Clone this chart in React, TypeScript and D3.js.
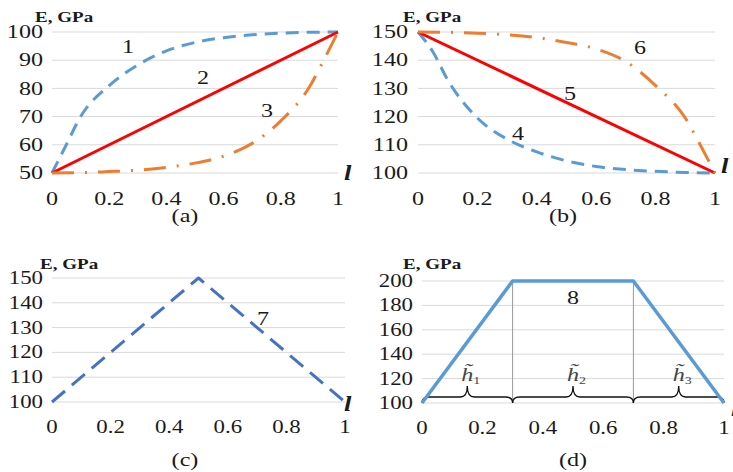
import React from "react";
import * as d3 from "d3";

// ---------- data ----------
const xTicks = [0, 0.2, 0.4, 0.6, 0.8, 1];
const xTickLabels = ["0", "0.2", "0.4", "0.6", "0.8", "1"];

const yTicksA = [50, 60, 70, 80, 90, 100];
const yTicksB = [100, 110, 120, 130, 140, 150];
const yTicksC = [100, 110, 120, 130, 140, 150];
const yTicksD = [100, 120, 140, 160, 180, 200];

const lFine = [0, 0.05, 0.1, 0.2, 0.3, 0.4, 0.5, 0.6, 0.7, 0.8, 0.9, 1];
const lTail = [0, 0.1, 0.2, 0.3, 0.4, 0.5, 0.6, 0.7, 0.8, 0.9, 0.95, 1];
const lLine = [0, 1];

const curve1 = [50, 60, 70, 81, 88.3, 93.3, 96.3, 98, 99, 99.6, 99.9, 100];
const curve2 = [50, 100];
const curve3 = [50, 50.1, 50.5, 51, 52, 53.5, 56, 60.5, 68.5, 80.5, 90, 100];
const curve4 = [150, 143, 133, 119.5, 112, 107.5, 104.3, 102.3, 101.2, 100.6, 100.2, 100];
const curve5 = [150, 100];
const curve6 = [150, 149.9, 149.6, 149, 148, 146.3, 144, 139.5, 131, 119.5, 110, 100];

const lC = [0, 0.5, 1];
const curve7 = [100, 150, 100];

const lD = [0, 0.3, 0.7, 1];
const curve8 = [100, 200, 200, 100];
const layerBounds = [0, 0.3, 0.7, 1];
const layerNames = ["1", "2", "3"];

// ---------- styling ----------
const FONT = "Liberation Serif, Times New Roman, Tinos, DejaVu Serif, serif";
const SX = 1.27;
const BLUE = "#5B9BD5";
const DBLUE = "#4472C4";
const RED = "#FF0000";
const ORANGE = "#ED7D31";
const GRID = "#D9D9D9";
const TXT = "#1a1a1a";

function ST({ x, y, children, anchor = "start", size = 19, weight = "normal", italic = false, fill = TXT }: any) {
  return (
    <g transform={`translate(${x},${y}) scale(${SX},1)`}>
      <text
        x={0}
        y={0}
        textAnchor={anchor}
        style={{ fontFamily: FONT, fontSize: size, fontWeight: weight, fontStyle: italic ? "italic" : "normal" }}
        fill={fill}
      >
        {children}
      </text>
    </g>
  );
}

type Series = { xs: number[]; ys: number[]; color: string; width: number; dash?: string; smooth?: boolean };

function Panel({
  x0, x1, yBot, yTop, yDomain, yTicks, ySize, yLabelRight, tickBase, series, caption, captionX, captionY, titleX, titleY, lX, lY, children,
}: any) {
  const xs = d3.scaleLinear().domain([0, 1]).range([x0, x1]);
  const ys = d3.scaleLinear().domain(yDomain).range([yBot, yTop]);
  const mk = (smooth: boolean) =>
    d3
      .line<[number, number]>()
      .x((d) => xs(d[0]))
      .y((d) => ys(d[1]))
      .curve(smooth ? d3.curveMonotoneX : d3.curveLinear);
  return (
    <g>
      {yTicks.map((t: number) => (
        <line key={"g" + t} x1={x0} x2={x1} y1={ys(t)} y2={ys(t)} stroke={GRID} strokeWidth={1} />
      ))}
      {yTicks.map((t: number) => (
        <ST key={"y" + t} x={yLabelRight} y={ys(t) + ySize * 0.33} anchor="end" size={ySize}>
          {String(t)}
        </ST>
      ))}
      {xTicks.map((t, i) => (
        <ST key={"x" + t} x={xs(t)} y={tickBase} anchor="middle" size={ySize}>
          {xTickLabels[i]}
        </ST>
      ))}
      {children && children(xs, ys)}
      {series.map((s: Series, i: number) => (
        <path
          key={"s" + i}
          d={mk(!!s.smooth)(s.xs.map((v, k) => [v, s.ys[k]] as [number, number])) || ""}
          fill="none"
          stroke={s.color}
          strokeWidth={s.width}
          strokeDasharray={s.dash}
          strokeLinejoin="round"
        />
      ))}
      <ST x={titleX} y={titleY} size={15} weight="bold">E, GPa</ST>
      <ST x={lX} y={lY} size={21} italic weight="bold">l</ST>
      <ST x={captionX} y={captionY} anchor="middle" size={19}>{caption}</ST>
    </g>
  );
}

function brace(xa: number, xb: number, yb: number, yf: number, yt: number) {
  const r = 7;
  const m = (xa + xb) / 2;
  return `M${xa},${yb} Q${xa},${yf} ${xa + r},${yf} L${m - r},${yf} Q${m},${yf} ${m},${yt} Q${m},${yf} ${m + r},${yf} L${xb - r},${yf} Q${xb},${yf} ${xb},${yb}`;
}

export default function App() {
  return (
    <svg width={733} height={472} style={{ position: "absolute", left: 0, top: 0, background: "#fff" }}>
      <rect x={0} y={0} width={733} height={472} fill="#fff" />
      {/* (a) */}
      <Panel
        x0={52} x1={338} yBot={173} yTop={32} yDomain={[50, 100]} yTicks={yTicksA} ySize={19} yLabelRight={43}
        tickBase={205} caption="(a)" captionX={185} captionY={222} titleX={35} titleY={22} lX={344} lY={180}
        series={[
          { xs: lFine, ys: curve1, color: BLUE, width: 3, dash: "13 8", smooth: true },
          { xs: lLine, ys: curve2, color: RED, width: 3 },
          { xs: lTail, ys: curve3, color: ORANGE, width: 3, dash: "22 11 2 11", smooth: true },
        ]}
      >
        {() => (
          <g>
            <ST x={128} y={53} anchor="middle">1</ST>
            <ST x={203} y={84} anchor="middle">2</ST>
            <ST x={267} y={117} anchor="middle">3</ST>
          </g>
        )}
      </Panel>
      {/* (b) */}
      <Panel
        x0={418} x1={715} yBot={173} yTop={32} yDomain={[100, 150]} yTicks={yTicksB} ySize={19} yLabelRight={408}
        tickBase={205} caption="(b)" captionX={563} captionY={222} titleX={403} titleY={22} lX={721} lY={173}
        series={[
          { xs: lFine, ys: curve4, color: BLUE, width: 3, dash: "13 8", smooth: true },
          { xs: lLine, ys: curve5, color: RED, width: 3 },
          { xs: lTail, ys: curve6, color: ORANGE, width: 3, dash: "22 11 2 11", smooth: true },
        ]}
      >
        {() => (
          <g>
            <ST x={518} y={140} anchor="middle">4</ST>
            <ST x={570} y={100} anchor="middle">5</ST>
            <ST x={640} y={54} anchor="middle">6</ST>
          </g>
        )}
      </Panel>
      {/* (c) */}
      <Panel
        x0={52} x1={345} yBot={402} yTop={278} yDomain={[100, 150]} yTicks={yTicksC} ySize={18} yLabelRight={43}
        tickBase={433} caption="(c)" captionX={185} captionY={466} titleX={40} titleY={269} lX={344} lY={411}
        series={[{ xs: lC, ys: curve7, color: DBLUE, width: 3, dash: "17 9" }]}
      >
        {() => <ST x={263} y={325} anchor="middle">7</ST>}
      </Panel>
      {/* (d) */}
      <Panel
        x0={422} x1={724} yBot={403} yTop={281} yDomain={[100, 200]} yTicks={yTicksD} ySize={18} yLabelRight={413}
        tickBase={434} caption="(d)" captionX={573} captionY={466} titleX={403} titleY={269} lX={731} lY={416}
        series={[{ xs: lD, ys: curve8, color: BLUE, width: 3.5 }]}
      >
        {(xs: any, ys: any) => (
          <g>
            {layerBounds.slice(1, 3).map((b) => (
              <line key={"v" + b} x1={xs(b)} x2={xs(b)} y1={ys(200)} y2={ys(100)} stroke="#999" strokeWidth={1} />
            ))}
            {layerNames.map((n, i) => {
              const a = xs(layerBounds[i]);
              const b = xs(layerBounds[i + 1]);
              const m = (a + b) / 2;
              return (
                <g key={"br" + n}>
                  <path d={brace(a, b, ys(100), ys(100) - 6, ys(100) - 17)} fill="none" stroke="#111" strokeWidth={1.3} />
                  <ST x={m - 6} y={381} size={19} italic fill="#444">
                    {"h\u0303"}
                    <tspan dy={3} style={{ fontSize: 11, fontStyle: "normal" }}>{n}</tspan>
                  </ST>
                </g>
              );
            })}
            <ST x={573} y={304} anchor="middle">8</ST>
          </g>
        )}
      </Panel>
    </svg>
  );
}
